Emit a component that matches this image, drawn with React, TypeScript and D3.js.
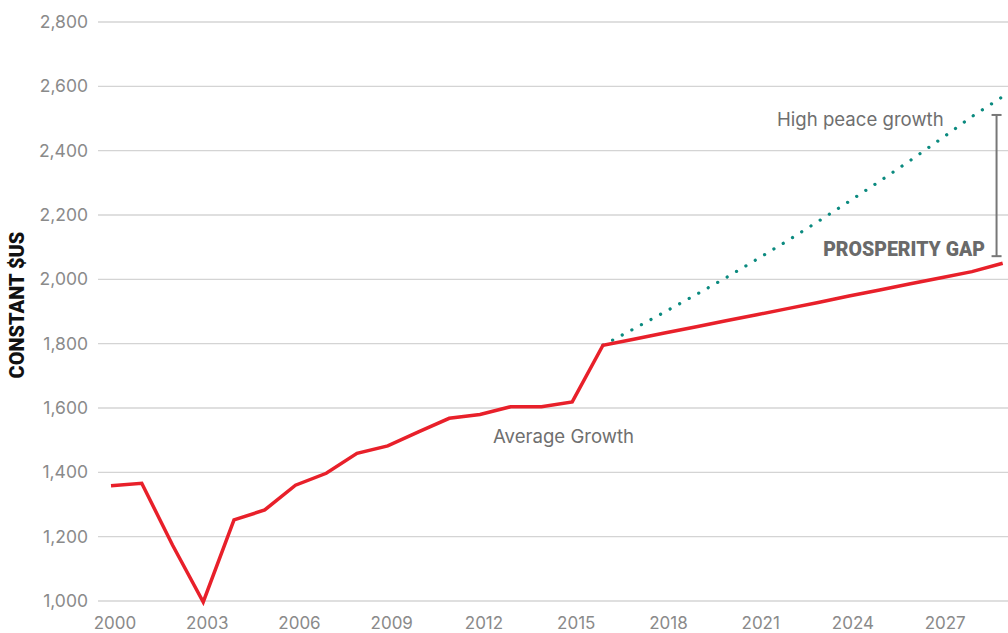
import React from "react";
import * as d3 from "d3";

const years = [2000, 2001, 2002, 2003, 2004, 2005, 2006, 2007, 2008, 2009, 2010, 2011, 2012, 2013, 2014, 2015, 2016, 2017, 2018, 2019, 2020, 2021, 2022, 2023, 2024, 2025, 2026, 2027, 2028, 2029];
const averageGrowth = [1358, 1366, 1174, 997, 1252, 1283, 1360, 1397, 1459, 1482, 1526, 1568, 1580, 1604, 1604, 1619, 1795, 1814, 1833, 1852, 1871, 1890, 1909, 1928, 1948, 1967, 1986, 2005, 2024, 2050];
const peaceYears = [2016, 2017, 2018, 2019, 2020, 2021, 2022, 2023, 2024, 2025, 2026, 2027, 2028, 2029];
const highPeaceGrowth = [1795, 1846, 1898, 1951, 2005, 2062, 2120, 2180, 2242, 2305, 2370, 2437, 2506, 2568];
const yTicks = [1000, 1200, 1400, 1600, 1800, 2000, 2200, 2400, 2600, 2800];
const xTicks = [2000, 2003, 2006, 2009, 2012, 2015, 2018, 2021, 2024, 2027];
const gapRange = [2072, 2511];
const gapYear = 2028.8;

const W = 1008;
const H = 633;
const FONT = "Inter, 'Noto Sans', sans-serif";

export default function App() {
  const x = d3.scaleLinear().domain([2000, 2029]).range([111, 1002.7]);
  const y = d3.scaleLinear().domain([1000, 2800]).range([601, 22]);

  const avgData = years.map((yr, i) => [yr, averageGrowth[i]] as [number, number]);
  const peaceData = peaceYears.map((yr, i) => [yr, highPeaceGrowth[i]] as [number, number]);
  const line = d3
    .line<[number, number]>()
    .x((d) => x(d[0]))
    .y((d) => y(d[1]));

  const bx = x(gapYear);
  const by1 = y(gapRange[1]);
  const by0 = y(gapRange[0]);

  return (
    <svg
      width={W}
      height={H}
      style={{ position: "absolute", left: 0, top: 0, background: "#fff" }}
      fontFamily={FONT}
    >
      {yTicks.map((t) => (
        <g key={t}>
          <line x1={98} x2={W} y1={y(t)} y2={y(t)} stroke="#d4d4d4" strokeWidth={1.3} />
          <text x={88} y={y(t)} dy="0.35em" textAnchor="end" fontSize={17.5} fill="#8a8a8a">
            {d3.format(",")(t)}
          </text>
        </g>
      ))}
      {xTicks.map((t) => (
        <text key={t} x={x(t) + 4} y={629} textAnchor="middle" fontSize={17} fill="#8a8a8a">
          {t}
        </text>
      ))}
      <text
        transform={`translate(24,305) rotate(-90)`}
        textAnchor="middle"
        fontSize={20}
        fontWeight={900}
        fill="#111"
        fontFamily="Roboto, sans-serif"
      >
        CONSTANT $US
      </text>

      <path
        d={line(peaceData) || ""}
        fill="none"
        stroke="#0b8a7f"
        strokeWidth={3.2}
        strokeLinecap="round"
        strokeDasharray="0.1 10.8"
      />
      <path
        d={line(avgData) || ""}
        fill="none"
        stroke="#e8202a"
        strokeWidth={3.5}
        strokeLinejoin="miter"
      />

      <text x={777} y={126} fontSize={18.6} fill="#6f6f6f">
        High peace growth
      </text>
      <text x={493} y={443} fontSize={18.6} fill="#6f6f6f">
        Average Growth
      </text>
      <text x={985} y={256} textAnchor="end" fontSize={19.5} fontWeight={900} fill="#6a6a6a" fontFamily="Roboto, sans-serif">
        PROSPERITY GAP
      </text>

      <g stroke="#777" strokeWidth={2}>
        <line x1={bx} x2={bx} y1={by1} y2={by0} />
        <line x1={bx - 5} x2={bx + 5} y1={by1} y2={by1} />
        <line x1={bx - 5} x2={bx + 5} y1={by0} y2={by0} />
      </g>
    </svg>
  );
}
